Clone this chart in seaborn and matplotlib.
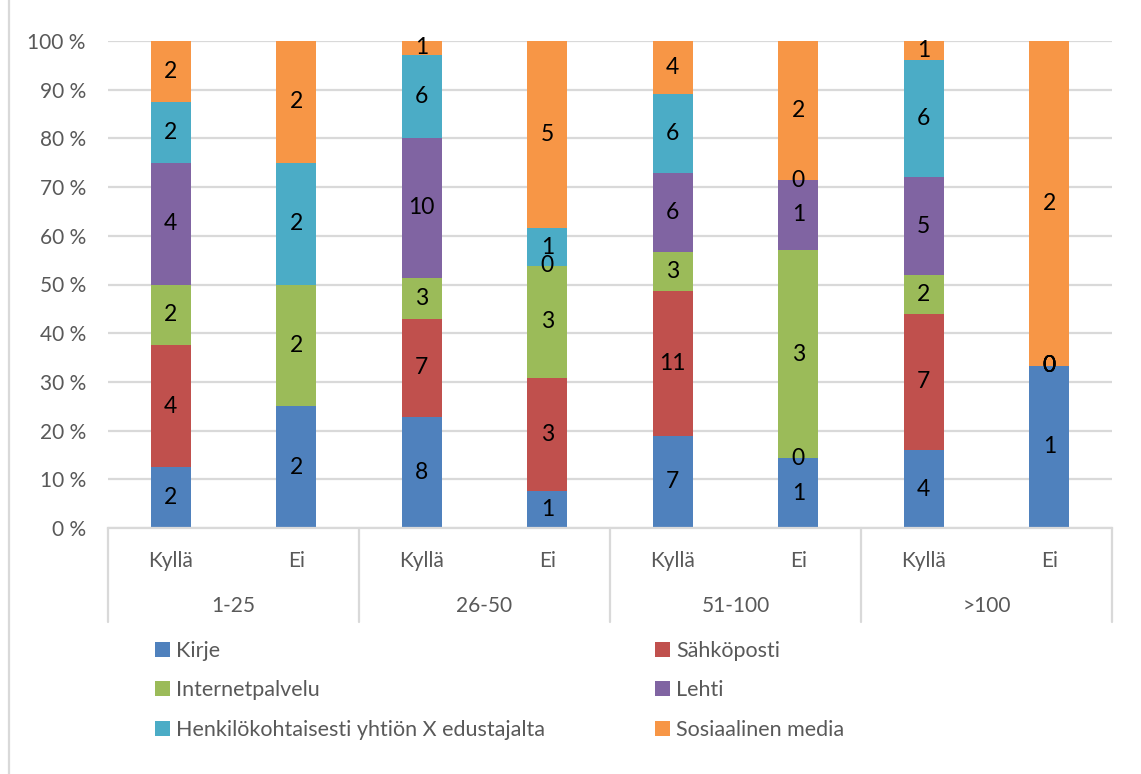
import numpy as np
import pandas as pd
import matplotlib
matplotlib.use("Agg")
import matplotlib.pyplot as plt
import seaborn as sns
from matplotlib.patches import Patch
from matplotlib.lines import Line2D
from matplotlib.transforms import blended_transform_factory

# Company size groups and answers within each group
groups = ["1-25", "26-50", "51-100", ">100"]
answers = ["Kyllä", "Ei"]

# Channels (stack order from bottom to top)
series = ["Kirje", "Sähköposti", "Internetpalvelu", "Lehti",
          "Henkilökohtaisesti yhtiön X edustajalta", "Sosiaalinen media"]
colors = ["#4F81BD", "#C0504D", "#9BBB59", "#8064A2", "#4BACC6", "#F79646"]

# Counts per bar: 1-25 Kyllä, 1-25 Ei, 26-50 Kyllä, 26-50 Ei, ...
kirje = [2, 2, 8, 1, 7, 1, 4, 1]
sahkoposti = [4, np.nan, 7, 3, 11, 0, 7, 0]
internetpalvelu = [2, 2, 3, 3, 3, 3, 2, 0]
lehti = [4, np.nan, 10, 0, 6, 1, 5, 0]
henkilokohtaisesti = [2, 2, 6, 1, 6, 0, 6, 0]
sosiaalinen_media = [2, 2, 1, 5, 4, 2, 1, 2]

counts = np.array([kirje, sahkoposti, internetpalvelu, lehti,
                   henkilokohtaisesti, sosiaalinen_media], dtype=float)
keys = [f"{g} {a}" for g in groups for a in answers]

# Percent-stacked layout
filled = np.nan_to_num(counts)
pct = filled / filled.sum(axis=0) * 100
top = np.cumsum(pct, axis=0)
bottom = top - pct
rows = []
for si, s in enumerate(series):
    for ki, k in enumerate(keys):
        rows.append({"key": k, "series": s, "count": counts[si, ki],
                     "top": top[si, ki], "mid": bottom[si, ki] + pct[si, ki] / 2})
df = pd.DataFrame(rows)

sns.set_theme(style="white")
plt.rcParams["font.family"] = ["Lato", "DejaVu Sans"]
GRAY = "#595959"
LINE = "#D9D9D9"
FS = 15

W, H = 1141, 774
fig = plt.figure(figsize=(W / 100, H / 100), dpi=100)
ax = fig.add_axes([108 / W, 1 - 528 / H, (1112 - 108) / W, (528 - 41) / H])

# Draw cumulative bars from the top layer down so each layer shows its segment
for si in reversed(range(len(series))):
    sub = df[df["series"] == series[si]]
    sns.barplot(data=sub, x="key", y="top", order=keys, color=colors[si],
                saturation=1, width=0.32, linewidth=0, errorbar=None, ax=ax)

# Value labels
for _, r in df.iterrows():
    if np.isnan(r["count"]):
        continue
    ax.text(keys.index(r["key"]), r["mid"], f"{int(r['count'])}",
            ha="center", va="center", fontsize=16.5, color="black")

ax.set_xlim(-0.5, len(keys) - 0.5)
ax.set_ylim(0, 100)
ax.set_yticks(range(0, 101, 10))
ax.set_yticklabels([f"{v} %" for v in range(0, 101, 10)])
ax.tick_params(axis="y", left=False, labelsize=FS, labelcolor=GRAY, pad=10)
ax.set_xticks([])
ax.set_xlabel("")
ax.set_ylabel("")
ax.yaxis.grid(True, color=LINE, linewidth=1.6)
ax.set_axisbelow(True)
for sp in ["top", "right", "left"]:
    ax.spines[sp].set_visible(False)
ax.spines["bottom"].set_color(LINE)
ax.spines["bottom"].set_linewidth(1.6)

# Two-level category axis
tr = blended_transform_factory(ax.transData, fig.transFigure)
for i, k in enumerate(keys):
    ax.text(i, 1 - 561 / H, answers[i % 2], transform=tr, ha="center",
            va="center", fontsize=FS, color=GRAY, clip_on=False)
for gi, g in enumerate(groups):
    ax.text(gi * 2 + 0.5, 1 - 606 / H, g, transform=tr, ha="center",
            va="center", fontsize=FS, color=GRAY, clip_on=False)
for xb in np.arange(-0.5, len(keys), 2):
    ax.add_line(Line2D([xb, xb], [1 - 528 / H, 1 - 622 / H], transform=tr,
                       color=LINE, linewidth=1.6, clip_on=False))

# Legend in two fixed columns
handles = [Patch(facecolor=c, edgecolor="none") for c in colors]
common = dict(frameon=False, fontsize=15.5, labelcolor=GRAY, handlelength=0.68,
              handleheight=0.68, handletextpad=0.3, labelspacing=0.9,
              borderpad=0, borderaxespad=0, loc="upper left")
fig.legend(handles[0::2], series[0::2],
           bbox_to_anchor=(155 / W, 1 - 641 / H), **common)
fig.legend(handles[1::2], series[1::2],
           bbox_to_anchor=(655 / W, 1 - 641 / H), **common)

# Frame edge on the left
fig.add_artist(Line2D([8.5 / W, 8.5 / W], [0, 1], transform=fig.transFigure,
                      color=LINE, linewidth=1.6))

fig.savefig("out.png", dpi=100)
